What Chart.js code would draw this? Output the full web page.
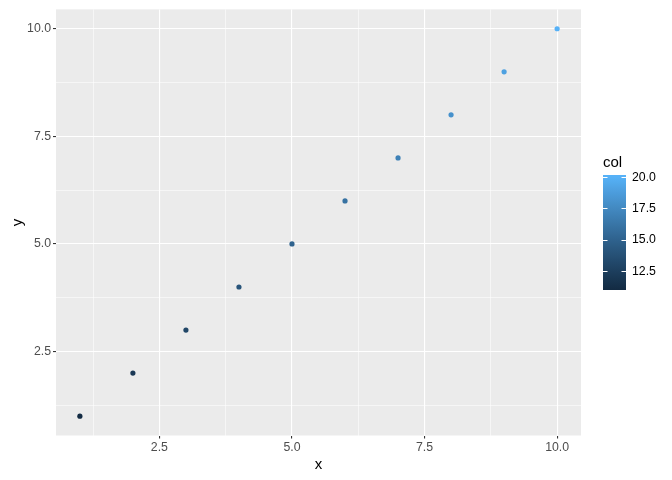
<!DOCTYPE html>
<html>
<head>
<meta charset="utf-8">
<script src="https://cdn.jsdelivr.net/npm/chart.js@4/dist/chart.umd.min.js"></script>
<style>
  html, body { margin: 0; padding: 0; background: #ffffff; }
  #wrap { width: 672px; height: 480px; }
</style>
</head>
<body>
<div id="wrap"><canvas id="plot"></canvas></div>
<script>
// data
const xValues = [1, 2, 3, 4, 5, 6, 7, 8, 9, 10];
const yValues = [1, 2, 3, 4, 5, 6, 7, 8, 9, 10];
const colValues = [11, 12, 13, 14, 15, 16, 17, 18, 19, 20];
const majorTicks = [2.5, 5, 7.5, 10];
const legendTicks = [12.5, 15, 17.5, 20];

const colMin = 11, colMax = 20;
const lowColor = '#132B43', highColor = '#56B1F7';

// ggplot-like gradient, interpolated in Lab space
function hexToRgb(h) {
    return [parseInt(h.slice(1, 3), 16), parseInt(h.slice(3, 5), 16), parseInt(h.slice(5, 7), 16)];
}
function toLin(c) { c /= 255; return c <= 0.04045 ? c / 12.92 : Math.pow((c + 0.055) / 1.055, 2.4); }
function fromLin(c) { c = c <= 0.0031308 ? 12.92 * c : 1.055 * Math.pow(c, 1 / 2.4) - 0.055; return Math.round(Math.min(1, Math.max(0, c)) * 255); }
function rgbToLab(rgb) {
    const [r, g, b] = rgb.map(toLin);
    let x = (r * 0.4124 + g * 0.3576 + b * 0.1805) / 0.95047;
    let y = (r * 0.2126 + g * 0.7152 + b * 0.0722);
    let z = (r * 0.0193 + g * 0.1192 + b * 0.9505) / 1.08883;
    const f = t => t > 0.008856 ? Math.cbrt(t) : 7.787 * t + 16 / 116;
    x = f(x); y = f(y); z = f(z);
    return [116 * y - 16, 500 * (x - y), 200 * (y - z)];
}
function labToRgb(lab) {
    let y = (lab[0] + 16) / 116, x = lab[1] / 500 + y, z = y - lab[2] / 200;
    const fi = t => t * t * t > 0.008856 ? t * t * t : (t - 16 / 116) / 7.787;
    x = fi(x) * 0.95047; y = fi(y); z = fi(z) * 1.08883;
    const r = x * 3.2406 + y * -1.5372 + z * -0.4986;
    const g = x * -0.9689 + y * 1.8758 + z * 0.0415;
    const b = x * 0.0557 + y * -0.2040 + z * 1.0570;
    return 'rgb(' + fromLin(r) + ',' + fromLin(g) + ',' + fromLin(b) + ')';
}
const labLow = rgbToLab(hexToRgb(lowColor));
const labHigh = rgbToLab(hexToRgb(highColor));
function colorFor(v) {
    const t = (v - colMin) / (colMax - colMin);
    return labToRgb(labLow.map((l, i) => l + (labHigh[i] - l) * t));
}

const points = xValues.map((x, i) => ({ x: x, y: yValues[i] }));
const pointColors = colValues.map(colorFor);

// every 1.25 is a grid line, only multiples of 2.5 are labelled
function isMajor(v) { return Math.abs(v / 2.5 - Math.round(v / 2.5)) < 1e-6; }
function gridTicks(axis) {
    const ticks = [];
    for (let v = 1.25; v <= axis.max + 1e-9; v += 1.25) {
        if (v >= axis.min) ticks.push({ value: v });
    }
    axis.ticks = ticks;
}

const FONT = '"Liberation Sans", Arial, sans-serif';

const panelBg = {
    id: 'panelBg',
    beforeDraw(chart) {
        const a = chart.chartArea, ctx = chart.ctx;
        ctx.save();
        ctx.fillStyle = '#EBEBEB';
        ctx.fillRect(a.left, a.top, a.right - a.left, a.bottom - a.top);
        ctx.restore();
    }
};

const colourBar = {
    id: 'colourBar',
    afterDraw(chart) {
        const ctx = chart.ctx;
        const barLeft = 603, barWidth = 23, barTop = 175, barBottom = 290;
        const yAt = v => 289.5 - (v - colMin) * 12.5;
        ctx.save();
        const grad = ctx.createLinearGradient(0, yAt(colMax), 0, yAt(colMin));
        for (let k = 0; k <= 20; k++) {
            grad.addColorStop(k / 20, colorFor(colMax - (colMax - colMin) * k / 20));
        }
        ctx.fillStyle = grad;
        ctx.fillRect(barLeft, barTop, barWidth, barBottom - barTop);

        ctx.strokeStyle = '#ffffff';
        ctx.lineWidth = 1;
        ctx.font = '12.3px ' + FONT;
        ctx.fillStyle = '#000000';
        ctx.textBaseline = 'middle';
        ctx.textAlign = 'left';
        legendTicks.forEach(v => {
            const y = Math.round(yAt(v)) + 0.5;
            ctx.beginPath();
            ctx.moveTo(barLeft, y); ctx.lineTo(barLeft + 4.5, y);
            ctx.moveTo(barLeft + barWidth - 4.5, y); ctx.lineTo(barLeft + barWidth, y);
            ctx.stroke();
            ctx.fillText(v.toFixed(1), 632, yAt(v) + 0.5);
        });

        ctx.font = '15px ' + FONT;
        ctx.textBaseline = 'alphabetic';
        ctx.fillText('col', 603, 167);
        ctx.restore();
    }
};

function axisOptions(titleText, isX) {
    return {
        type: 'linear',
        min: 0.55,
        max: 10.45,
        afterBuildTicks: gridTicks,
        afterFit: function(scale) {
            if (isX) scale.height = 44.5; else scale.width = 56;
        },
        border: { display: false },
        grid: {
            color: '#ffffff',
            lineWidth: ctx => isMajor(ctx.tick.value) ? 1.1 : 0.55,
            drawTicks: true,
            tickLength: 3,
            tickColor: ctx => isMajor(ctx.tick.value) ? '#333333' : 'rgba(0,0,0,0)',
            tickWidth: 1.1
        },
        ticks: {
            autoSkip: false,
            maxRotation: 0,
            padding: 2,
            color: '#4D4D4D',
            font: { family: FONT, size: 12.3 },
            callback: v => isMajor(v) && majorTicks.indexOf(v) >= 0 ? v.toFixed(1) : ''
        },
        title: {
            display: true,
            text: titleText,
            color: '#000000',
            font: { family: FONT, size: 15 },
            padding: isX ? { top: 0, bottom: 6 } : { top: 9, bottom: 0 }
        }
    };
}

new Chart(document.getElementById('plot').getContext('2d'), {
    type: 'scatter',
    data: {
        datasets: [{
            label: 'points',
            data: points,
            pointBackgroundColor: pointColors,
            pointBorderWidth: 0,
            pointRadius: 2.6,
            pointHoverRadius: 2.6
        }]
    },
    options: {
        responsive: true,
        maintainAspectRatio: false,
        animation: false,
        events: [],
        layout: { padding: { left: 0, right: 91, top: 6.5, bottom: 0 } },
        scales: {
            x: axisOptions('x', true),
            y: axisOptions('y', false)
        },
        plugins: {
            legend: { display: false },
            tooltip: { enabled: false }
        }
    },
    plugins: [panelBg, colourBar]
});
</script>
</body>
</html>
